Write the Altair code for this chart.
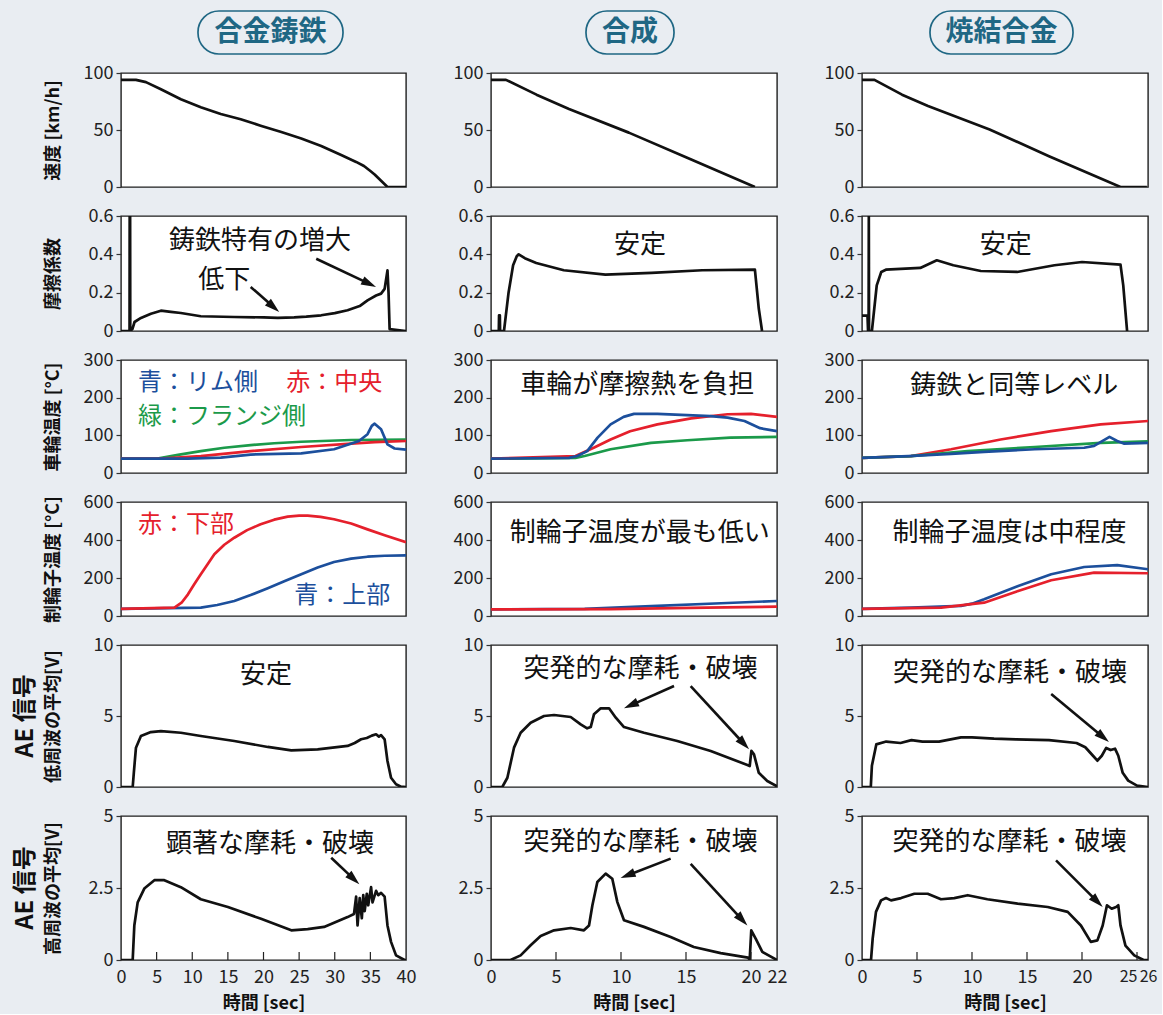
import math
import altair as alt
import pandas as pd

FONT = "Noto Sans CJK JP"
BG = "#e9edf2"
BLUE, RED, GREEN, BLACK = "#1c4f9c", "#e5202c", "#1b9a4a", "#111111"
TEAL = "#1f6784"

MATERIALS = ["合金鋳鉄", "合成", "焼結合金"]
X_MAX = [40, 22, 26]
X_TICKS = [[0, 5, 10, 15, 20, 25, 30, 35, 40],
           [0, 5, 10, 15, 20, 22],
           [0, 5, 10, 15, 20, 25, 26]]
Y_DOM = [(0, 100), (0, 0.6), (0, 300), (0, 600), (0, 10), (0, 5)]
Y_TICKS = [[0, 50, 100], [0, 0.2, 0.4, 0.6], [0, 100, 200, 300],
           [0, 200, 400, 600], [0, 5, 10], [0, 2.5, 5]]
Y_TITLES = ["速度 [km/h]", "摩擦係数", "車輪温度 [°C]", "制輪子温度 [°C]",
            "低周波の平均[V]", "高周波の平均[V]"]
AE_LABEL = "AE 信号"

# ---------------- 合金鋳鉄 ----------------
CI_SPEED_T = [0, 2.1, 3.5, 5.6, 8.4, 11.2, 14, 16.8, 19.6, 22.5, 25.3, 28.1, 30.9, 33, 34.1, 35, 35.6, 36.5, 37.4, 40]
CI_SPEED_V = [94, 94, 92, 85.7, 77, 70, 64, 59.4, 53.8, 48.2, 42.5, 36, 28, 22, 18.4, 14, 11, 5.5, 0, 0]

CI_MU_T = [0, 1.2, 1.22, 1.28, 1.3, 1.6, 1.9, 2.8, 4.2, 5.6, 7, 8.4, 11.2, 15.9, 20, 22, 24.3, 26, 28.1, 30,
           31.8, 33.5, 34.6, 35.8, 36.5, 37, 37.4, 37.55, 37.7, 40]
CI_MU_V = [0, 0, 0.6, 0.6, 0, 0.01, 0.047, 0.068, 0.09, 0.106, 0.1, 0.094, 0.077, 0.073, 0.071, 0.068, 0.071,
           0.075, 0.082, 0.093, 0.108, 0.13, 0.16, 0.185, 0.195, 0.22, 0.316, 0.2, 0.01, 0]

CI_WT_BLUE_T = [0, 5, 9.4, 14, 18.2, 25.3, 29.9, 33.4, 34.6, 35.2, 35.6, 36.5, 37.4, 38.4, 40]
CI_WT_BLUE = [38, 38, 38, 41, 49, 52, 63, 85, 103, 125, 131, 116, 76, 65, 62]
CI_WT_RED_T = [0, 5.6, 11.2, 18.2, 25.3, 32.3, 35.6, 40]
CI_WT_RED = [38, 38, 45, 58, 69, 78, 82, 85]
CI_WT_GREEN_T = [0, 5.1, 8, 11.2, 14.5, 18.2, 21.5, 25.3, 32.3, 40]
CI_WT_GREEN = [38, 38, 48, 58, 67, 74, 79, 83, 87.6, 89]

CI_ST_RED_T = [0, 7.5, 8.5, 9.4, 10.3, 11.2, 12.2, 13.1, 14.5, 15.9, 17.7, 19.6, 21.5, 23.4, 25, 26.2, 28,
               29.9, 32.3, 34.6, 37, 40]
CI_ST_RED = [38, 44, 70, 114, 168, 220, 275, 325, 375, 412, 452, 483, 507, 523, 528, 528, 522, 509, 487, 456,
             425, 388]
CI_ST_BLUE_T = [0, 11.2, 13.5, 15.9, 18.2, 20.6, 23, 25.3, 27.6, 29.9, 32.3, 34.6, 37, 40]
CI_ST_BLUE = [38, 44, 58, 79, 110, 146, 184, 220, 255, 284, 302, 312, 317, 319]

CI_AEL_T = [0, 1.64, 1.8, 2.1, 2.8, 4.2, 5.6, 8.4, 11.2, 15.9, 20.6, 23.9, 27.6, 31.8, 32.8, 33.7, 34.5, 35.2,
            35.8, 36.2, 36.5, 37.0, 37.4, 37.9, 38.6, 39.3, 40]
CI_AEL_V = [0, 0, 1.0, 2.77, 3.59, 3.87, 3.94, 3.82, 3.59, 3.24, 2.82, 2.58, 2.65, 2.89, 3.1, 3.36, 3.45, 3.62,
            3.71, 3.55, 3.65, 3.36, 1.83, 0.65, 0.19, 0.02, 0]

CI_AEH_T = [0, 1.64, 1.87, 2.34, 3.27, 4.68, 6.08, 8.4, 11.2, 15, 19.65, 23.9, 26.2, 28.5, 31.8, 32.7, 33.0,
            33.2, 33.5, 33.8, 34.0, 34.2, 34.5, 34.7, 35.1, 35.3, 35.8, 36.1, 36.5, 37.0, 37.4, 37.9, 38.6,
            39.8, 40]
CI_AEH_V = [0, 0, 1.2, 2.0, 2.48, 2.77, 2.77, 2.53, 2.11, 1.84, 1.43, 1.03, 1.07, 1.15, 1.49, 1.6, 2.2, 1.2,
            2.15, 1.45, 2.25, 1.7, 2.3, 1.9, 2.53, 2.0, 2.4, 2.25, 2.33, 2.2, 1.2, 0.63, 0.16, 0, 0]

# ---------------- 合成 ----------------
SY_SPEED_T = [0, 1.15, 3.5, 6, 10.6, 15, 20.3]
SY_SPEED_V = [94, 94, 81, 68.5, 47.7, 26, 0]

SY_MU_T = [0, 0.6, 0.62, 0.68, 0.7, 1.0, 1.35, 1.7, 1.98, 2.13, 2.6, 3.48, 5.6, 8.8, 12.35, 16.25, 20.3,
           20.6, 20.85]
SY_MU_V = [0, 0, 0.082, 0.082, 0, 0, 0.2, 0.343, 0.39, 0.4, 0.38, 0.355, 0.317, 0.294, 0.303, 0.317, 0.32,
           0.116, 0]

SY_WT_BLUE_T = [0, 6.0, 6.64, 7.4, 8.2, 9.2, 10.2, 11, 12.8, 16.9, 18.2, 19.5, 20.7, 22]
SY_WT_BLUE = [38, 40, 45, 58, 94, 129, 149, 157, 157, 151, 147, 138, 119, 111]
SY_WT_RED_T = [0, 6.5, 7.9, 9.2, 10.7, 12.8, 15.4, 18.2, 20, 22]
SY_WT_RED = [38, 45, 67, 89, 111, 129, 145, 156, 157, 149]
SY_WT_GREEN_T = [0, 6.5, 7.2, 9.2, 12.3, 15.1, 18.4, 22]
SY_WT_GREEN = [38, 40, 45, 63, 80, 87, 94, 96]

SY_ST_RED_T = [0, 9.2, 16.6, 22]
SY_ST_RED = [35, 36, 44, 49]
SY_ST_BLUE_T = [0, 7.2, 12.8, 17.7, 22]
SY_ST_BLUE = [35, 38, 53, 67, 79]

SY_AEL_T = [0, 0.87, 1.26, 1.77, 2.28, 3.05, 4.08, 4.85, 6.13, 6.9, 7.4, 7.67, 7.92, 8.44, 9.08, 9.6, 10.23,
            11.77, 14.33, 16.9, 19.72, 19.9, 20.03, 20.23, 20.6, 21.25, 22]
SY_AEL_V = [0, 0, 0.65, 2.77, 3.82, 4.53, 5.0, 5.07, 4.93, 4.41, 4.13, 4.22, 5.12, 5.54, 5.54, 4.88, 4.22,
            3.82, 3.24, 2.54, 1.55, 1.48, 2.54, 2.3, 1.0, 0.42, 0.05]

SY_AEH_T = [0, 1.5, 2.28, 3.05, 3.82, 4.85, 6.13, 7.15, 7.54, 7.8, 8.18, 8.82, 9.33, 9.72, 10.23, 11.77,
            13.82, 15.6, 17.67, 19.77, 19.9, 20.02, 20.36, 20.87, 22]
SY_AEH_V = [0, 0, 0.16, 0.51, 0.83, 1.03, 1.11, 1.03, 1.2, 1.9, 2.71, 3.0, 2.82, 2.01, 1.38, 1.15, 0.8, 0.45,
            0.24, 0.08, 0.02, 1.03, 0.74, 0.28, 0]

# ---------------- 焼結合金 ----------------
SN_SPEED_T = [0, 1.13, 3.64, 6, 11.6, 17, 23.5, 25.9]
SN_SPEED_V = [94, 94, 81, 71, 50.5, 27, 0, 0]

SN_MU_T = [0, 0.5, 0.55, 0.6, 0.62, 0.64, 0.9, 1.34, 1.75, 2.17, 5.3, 6.8, 8.3, 10.8, 14.1, 17.5, 20, 23.5,
           23.75, 24.1]
SN_MU_V = [0.08, 0.08, 0, 0, 0.6, 0, 0, 0.238, 0.308, 0.32, 0.329, 0.369, 0.343, 0.313, 0.308, 0.343, 0.36,
           0.346, 0.238, 0]

SN_WT_RED_T = [0, 4.45, 8.1, 12.6, 17.2, 21.7, 26]
SN_WT_RED = [40, 45, 63, 89, 111, 129, 138]
SN_WT_GREEN_T = [0, 4.45, 9.6, 15.7, 21.7, 26]
SN_WT_GREEN = [40, 45, 58, 69, 80, 84]
SN_WT_BLUE_T = [0, 4.2, 8.1, 11.1, 15.7, 20.2, 21.1, 22.5, 23.2, 23.8, 26]
SN_WT_BLUE = [40, 45, 51, 56, 63, 67, 72, 96, 85, 78, 80]

SN_ST_BLUE_T = [0, 4.45, 9, 10, 11.1, 14.2, 17.2, 20.2, 23.2, 26]
SN_ST_BLUE = [38, 44, 53, 65, 88, 158, 220, 258, 268, 246]
SN_ST_RED_T = [0, 7.2, 11.1, 14.2, 17.2, 21.1, 26]
SN_ST_RED = [38, 44, 70, 132, 188, 228, 225]

SN_AEL_T = [0, 0.8, 0.9, 1.3, 2.2, 3.5, 4.5, 5.5, 7, 9, 10, 12, 14, 17, 19.5, 20.3, 21, 21.4, 21.8, 22.2,
            22.6, 23, 23.3, 23.7, 24.2, 25, 26]
SN_AEL_V = [0, 0, 1.5, 3.0, 3.2, 3.1, 3.3, 3.2, 3.2, 3.5, 3.5, 3.4, 3.35, 3.3, 3.1, 2.8, 2.2, 1.85, 2.2, 2.75,
            2.6, 2.7, 2.2, 1.0, 0.45, 0.1, 0]

SN_AEH_T = [0, 0.82, 0.97, 1.27, 1.73, 2.18, 2.64, 3.55, 4.76, 5.97, 7.18, 8.39, 9.61, 11.4, 14.15, 16.88,
            18.7, 19.9, 20.8, 21.4, 21.88, 22.27, 22.7, 23.1, 23.3, 23.5, 23.95, 24.75, 25.6, 26]
SN_AEH_V = [0, 0, 0.74, 1.67, 2.07, 2.15, 2.07, 2.15, 2.3, 2.3, 2.11, 2.15, 2.25, 2.11, 1.96, 1.84, 1.67, 1.2,
            0.63, 0.68, 1.2, 1.9, 1.78, 1.84, 1.9, 1.2, 0.5, 0.16, 0, 0]

SERIES = {
    (0, 0): [(CI_SPEED_T, CI_SPEED_V, BLACK)],
    (0, 1): [(CI_MU_T, CI_MU_V, BLACK)],
    (0, 2): [(CI_WT_GREEN_T, CI_WT_GREEN, GREEN), (CI_WT_RED_T, CI_WT_RED, RED), (CI_WT_BLUE_T, CI_WT_BLUE, BLUE)],
    (0, 3): [(CI_ST_BLUE_T, CI_ST_BLUE, BLUE), (CI_ST_RED_T, CI_ST_RED, RED)],
    (0, 4): [(CI_AEL_T, CI_AEL_V, BLACK)],
    (0, 5): [(CI_AEH_T, CI_AEH_V, BLACK)],
    (1, 0): [(SY_SPEED_T, SY_SPEED_V, BLACK)],
    (1, 1): [(SY_MU_T, SY_MU_V, BLACK)],
    (1, 2): [(SY_WT_GREEN_T, SY_WT_GREEN, GREEN), (SY_WT_RED_T, SY_WT_RED, RED), (SY_WT_BLUE_T, SY_WT_BLUE, BLUE)],
    (1, 3): [(SY_ST_BLUE_T, SY_ST_BLUE, BLUE), (SY_ST_RED_T, SY_ST_RED, RED)],
    (1, 4): [(SY_AEL_T, SY_AEL_V, BLACK)],
    (1, 5): [(SY_AEH_T, SY_AEH_V, BLACK)],
    (2, 0): [(SN_SPEED_T, SN_SPEED_V, BLACK)],
    (2, 1): [(SN_MU_T, SN_MU_V, BLACK)],
    (2, 2): [(SN_WT_RED_T, SN_WT_RED, RED), (SN_WT_GREEN_T, SN_WT_GREEN, GREEN), (SN_WT_BLUE_T, SN_WT_BLUE, BLUE)],
    (2, 3): [(SN_ST_BLUE_T, SN_ST_BLUE, BLUE), (SN_ST_RED_T, SN_ST_RED, RED)],
    (2, 4): [(SN_AEL_T, SN_AEL_V, BLACK)],
    (2, 5): [(SN_AEH_T, SN_AEH_V, BLACK)],
}

BREAKDOWN = "突発的な摩耗・破壊"
# notes: (t, value, text, colour, align)
NOTES = {
    (0, 1): [(19.5, 0.47, "鋳鉄特有の増大", BLACK, "center"), (14.5, 0.264, "低下", BLACK, "center")],
    (0, 2): [(2.4, 240, "青：リム側", BLUE, "left"), (23.2, 240, "赤：中央", RED, "left"),
             (2.4, 150, "緑：フランジ側", GREEN, "left")],
    (0, 3): [(2.4, 479, "赤：下部", RED, "left"), (24.3, 105, "青：上部", BLUE, "left")],
    (0, 4): [(20.35, 7.9, "安定", BLACK, "center")],
    (0, 5): [(20.9, 4.04, "顕著な摩耗・破壊", BLACK, "center")],
    (1, 1): [(11.46, 0.449, "安定", BLACK, "center")],
    (1, 2): [(11.25, 233, "車輪が摩擦熱を負担", BLACK, "center")],
    (1, 3): [(11.45, 438, "制輪子温度が最も低い", BLACK, "center")],
    (1, 4): [(11.5, 8.29, BREAKDOWN, BLACK, "center")],
    (1, 5): [(11.5, 4.1, BREAKDOWN, BLACK, "center")],
    (2, 1): [(13.06, 0.449, "安定", BLACK, "center")],
    (2, 2): [(13.85, 231, "鋳鉄と同等レベル", BLACK, "center")],
    (2, 3): [(13.4, 438, "制輪子温度は中程度", BLACK, "center")],
    (2, 4): [(13.45, 8.0, BREAKDOWN, BLACK, "center")],
    (2, 5): [(13.4, 4.1, BREAKDOWN, BLACK, "center")],
}
# arrows: (t_from, v_from, t_to, v_to)
ARROWS = {
    (0, 1): [(18.2, 0.23, 22.2, 0.099), (27.4, 0.377, 35.8, 0.23)],
    (0, 5): [(29.5, 3.55, 33.45, 2.63)],
    (1, 4): [(14.08, 7.11, 10.23, 5.54), (15.36, 7.11, 19.85, 2.65)],
    (1, 5): [(13.82, 3.52, 9.97, 2.85), (15.36, 3.34, 19.72, 1.2)],
    (2, 4): [(17.2, 6.55, 22.45, 3.17)],
    (2, 5): [(17.64, 3.46, 21.88, 1.84)],
}

PANEL_W = [285, 286, 286]
ROW_H = [114, 115, 113, 114, 142, 144]
HEADER_X = [(77, 222), (95, 183), (68, 211)]
ARROW_HEAD = "M0,0L-0.6,2L0.6,2Z"
TICK_LABEL = "format(datum.value, '~g')"


def panel(c, r):
    w, h = PANEL_W[c], ROW_H[r]
    y0, y1 = Y_DOM[r]
    kx = w / X_MAX[c]
    ky = h / (y1 - y0)
    xs = alt.Scale(domain=[0, X_MAX[c]], nice=False, zero=False)
    ys = alt.Scale(domain=[y0, y1], nice=False, zero=False)

    ykw = dict(values=Y_TICKS[r], labelExpr=TICK_LABEL, grid=False, domain=False, tickSize=5, tickWidth=1.2,
               tickColor="#333", labelFontSize=18, labelPadding=3, labelColor="#222")
    if c == 0:
        ykw.update(title=Y_TITLES[r], titleFontSize=18, titleFontWeight="bold", titleColor="#111",
                   titleAngle=270, titleX=-68, titleY=h / 2, titleAlign="center", titleBaseline="middle")
    else:
        ykw["title"] = None
    yaxis = alt.Axis(**ykw)
    if r == 5:
        xkw = dict(values=X_TICKS[c], labelExpr=TICK_LABEL, grid=False, domain=False, ticks=False,
                   labelFontSize=18, labelPadding=8, labelFlush=False, labelOverlap=False,
                   labelColor="#222", title="時間 [sec]", titleFontSize=18, titleFontWeight="bold",
                   titleColor="#111", titlePadding=8)
        if c == 2:
            # the last two ticks sit close together: tighten their labels
            xkw["labelFontSize"] = {"condition": {"test": "datum.value >= 25", "value": 16}, "value": 18}
            xkw["labelAlign"] = {"condition": {"test": "datum.value == 25", "value": "right"}, "value": "center"}
        xaxis = alt.Axis(**xkw)
    else:
        xaxis = None

    def X():
        return alt.X("t:Q", scale=xs, axis=xaxis)

    def Y():
        return alt.Y("v:Q", scale=ys, axis=yaxis)

    rows = []
    for k, (T, V, colr) in enumerate(SERIES[(c, r)]):
        for i, (t, v) in enumerate(zip(T, V)):
            rows.append(dict(t=t, v=v, col=colr, i=i))
    layers = [
        alt.Chart(pd.DataFrame(rows)).mark_line(strokeWidth=2.7, strokeJoin="round", clip=True).encode(
            x=X(), y=Y(), color=alt.Color("col:N", scale=None), order="i:Q")
    ]

    if r == 5:
        tick_len = 8 / ky
        tdf = pd.DataFrame({"t": X_TICKS[c][1:-1]})
        tdf["v"] = y0
        tdf["v2"] = y0 + tick_len
        layers.append(alt.Chart(tdf).mark_rule(color="#222", strokeWidth=1.2).encode(x=X(), y=Y(), y2="v2:Q"))

    if (c, r) in ARROWS:
        shafts, heads = [], []
        for (t0, v0, t1, v1) in ARROWS[(c, r)]:
            dx = (t1 - t0) * kx
            dy = -(v1 - v0) * ky
            L = math.hypot(dx, dy)
            ux, uy = dx / L, dy / L
            back = 9.0
            shafts.append(dict(t=t0, v=v0, t2=t1 - ux * back / kx, v2=v1 + uy * back / ky))
            heads.append(dict(t=t1, v=v1, ang=math.degrees(math.atan2(ux, -uy)) % 360))
        layers.append(alt.Chart(pd.DataFrame(shafts)).mark_rule(color=BLACK, strokeWidth=2.6).encode(
            x=X(), y=Y(), x2="t2:Q", y2="v2:Q"))
        layers.append(alt.Chart(pd.DataFrame(heads)).mark_point(
            shape=ARROW_HEAD, filled=True, size=225, color=BLACK, opacity=1).encode(
            x=X(), y=Y(), angle=alt.Angle("ang:Q", scale=None)))

    for align in ("center", "left"):
        notes = [dict(t=t, v=v, label=s, col=colr) for (t, v, s, colr, a) in NOTES.get((c, r), []) if a == align]
        if notes:
            layers.append(alt.Chart(pd.DataFrame(notes)).mark_text(
                align=align, baseline="middle", fontSize=26 if align == "center" else 24, font=FONT).encode(
                x=X(), y=Y(), text="label:N", color=alt.Color("col:N", scale=None)))

    if r == 0:
        hx0, hx1 = HEADER_X[c]
        hdf = pd.DataFrame({"name": [MATERIALS[c]]})
        layers.append(alt.Chart(hdf).mark_rect(
            cornerRadius=21, fillOpacity=0, stroke=TEAL, strokeWidth=1.7).encode(
            x=alt.value(hx0), x2=alt.value(hx1), y=alt.value(-62), y2=alt.value(-19)))
        layers.append(alt.Chart(hdf).mark_text(
            fontSize=28, fontWeight="bold", color=TEAL, font=FONT, baseline="middle").encode(
            x=alt.value((hx0 + hx1) / 2), y=alt.value(-40.5), text="name:N"))

    if c == 0 and r >= 4:
        layers.append(alt.Chart(pd.DataFrame({"lab": [AE_LABEL]})).mark_text(
            angle=270, fontSize=24, fontWeight="bold", color=BLACK, font=FONT, baseline="middle").encode(
            x=alt.value(-95), y=alt.value(h / 2), text="lab:N"))

    return alt.layer(*layers).properties(width=w, height=h)


panels = [panel(c, r) for r in range(6) for c in range(3)]
chart = alt.concat(
    *panels, columns=3, spacing={"row": 29, "column": 85}, bounds="flush"
).properties(
    background=BG,
    padding={"left": 13, "top": 9, "right": 4, "bottom": 1},
).configure(font=FONT).configure_view(stroke="#1e1e1e", strokeWidth=1.4, fill="white")

chart.save("out.html", embed_options={"renderer": "svg", "actions": False})
